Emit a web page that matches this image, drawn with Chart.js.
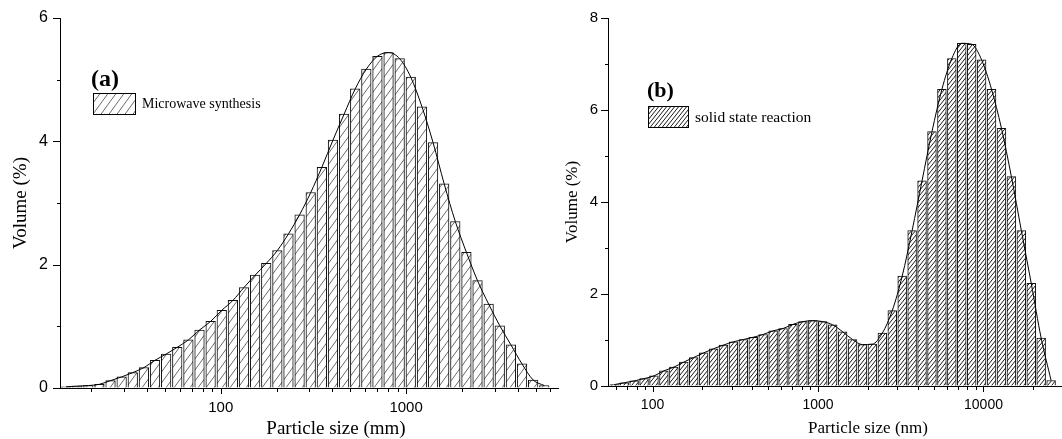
<!DOCTYPE html>
<html>
<head>
<meta charset="utf-8">
<script src="https://cdn.jsdelivr.net/npm/chart.js@4.4.1/dist/chart.umd.min.js"></script>
<style>
    body { margin: 0; background: #fff; }
    #wrap { position: relative; width: 1062px; height: 439px; background: #fff; }
    canvas { position: absolute; top: 0; }
    #chartA { left: 0; }
    #chartB { left: 540px; }
</style>
</head>
<body>
<div id="wrap">
    <canvas id="chartA" width="560" height="439"></canvas>
    <canvas id="chartB" width="522" height="439"></canvas>
</div>
<script>
// (a) microwave synthesis - bin centres (mm) and volume (%)
const sizesA = [14.64, 16.81, 19.30, 22.16, 25.44, 29.21, 33.54, 38.51, 44.21, 50.76, 58.28, 66.92,
    76.83, 88.21, 101.3, 116.3, 133.5, 153.3, 176.0, 202.1, 232.0, 266.4, 305.9, 351.2, 403.2, 462.9,
    531.5, 610.2, 700.6, 804.4, 923.6, 1060, 1218, 1398, 1605, 1843, 2116, 2429, 2789, 3202, 3677,
    4221, 4847, 5565];
const volumeA = [0.02, 0.03, 0.04, 0.06, 0.12, 0.18, 0.25, 0.33, 0.45, 0.55, 0.66, 0.78,
    0.94, 1.08, 1.26, 1.42, 1.63, 1.83, 2.02, 2.23, 2.50, 2.81, 3.17, 3.58, 4.02, 4.44,
    4.85, 5.17, 5.38, 5.44, 5.34, 5.04, 4.56, 3.98, 3.31, 2.70, 2.20, 1.74, 1.36, 1.01, 0.70,
    0.39, 0.13, 0.04];

// (b) solid state reaction - bin centres (nm) and volume (%)
const sizesB = [58.70, 67.40, 77.38, 88.85, 102.0, 117.1, 134.5, 154.4, 177.3, 203.5, 233.7, 268.3,
    308.1, 353.7, 406.1, 466.3, 535.4, 614.7, 705.7, 810.3, 930.3, 1068, 1226, 1408, 1617, 1856,
    2131, 2447, 2810, 3226, 3704, 4252, 4882, 5606, 6436, 7389, 8484, 9741, 11184, 12841, 14743,
    16928, 19435, 22314, 25620];
const volumeB = [0.03, 0.07, 0.11, 0.16, 0.22, 0.33, 0.41, 0.52, 0.62, 0.72, 0.81, 0.89,
    0.96, 1.01, 1.06, 1.12, 1.20, 1.25, 1.34, 1.40, 1.42, 1.40, 1.33, 1.18, 1.01, 0.90,
    0.91, 1.15, 1.64, 2.39, 3.38, 4.46, 5.53, 6.45, 7.12, 7.45, 7.43, 7.09, 6.45, 5.60, 4.55,
    3.38, 2.23, 1.04, 0.12];

// axis ticks
const xTicksA = [20, 30, 40, 50, 60, 70, 80, 90, 100, 200, 300, 400, 500, 600, 700, 800, 900,
    1000, 2000, 3000, 4000, 5000, 6000];
const xLabelsA = [100, 1000];
const xTicksB = [60, 70, 80, 90, 100, 200, 300, 400, 500, 600, 700, 800, 900, 1000, 2000, 3000,
    4000, 5000, 6000, 7000, 8000, 9000, 10000, 20000];
const xLabelsB = [100, 1000, 10000];
const yLabelsA = [0, 2, 4, 6];
const yLabelsB = [0, 2, 4, 6, 8];

function hatch(w, h, color, lw) {
    const c = document.createElement('canvas');
    c.width = w;
    c.height = h;
    const g = c.getContext('2d');
    g.fillStyle = '#fff';
    g.fillRect(0, 0, w, h);
    g.strokeStyle = color;
    g.lineWidth = lw;
    g.beginPath();
    for (let k = -1; k <= 1; k++) {
        g.moveTo(k * w, h);
        g.lineTo(k * w + w, 0);
    }
    g.stroke();
    return g.createPattern(c, 'repeat');
}

// tick marks: long for labelled ticks, short for the rest
const tickMarks = {
    id: 'tickMarks',
    afterDraw(chart) {
        const ctx = chart.ctx;
        const sx = chart.scales.x, sy = chart.scales.y;
        ctx.save();
        ctx.strokeStyle = '#000';
        ctx.lineWidth = 1;
        ctx.beginPath();
        sx.ticks.forEach(t => {
            const px = Math.round(sx.getPixelForValue(t.value)) + 0.5;
            const len = t.label ? 6 : 4;
            ctx.moveTo(px, sx.top);
            ctx.lineTo(px, sx.top + len);
        });
        sy.ticks.forEach(t => {
            const py = Math.round(sy.getPixelForValue(t.value)) + 0.5;
            const len = t.label !== '' ? 7 : 3;
            ctx.moveTo(sy.right, py);
            ctx.lineTo(sy.right - len, py);
        });
        ctx.stroke();
        ctx.restore();
    }
};

function panelDecor(p) {
    return {
        id: 'panelDecor',
        afterDraw(chart) {
            const ctx = chart.ctx;
            ctx.save();
            ctx.fillStyle = '#000';
            ctx.textAlign = 'left';
            ctx.textBaseline = 'alphabetic';
            ctx.font = 'bold ' + p.tagSize + 'px "Liberation Serif"';
            ctx.fillText(p.tag, p.tagX, p.tagY);

            const [bx, by, bw, bh] = p.box;
            ctx.fillStyle = p.pattern;
            ctx.fillRect(bx, by, bw, bh);
            ctx.strokeStyle = '#000';
            ctx.lineWidth = 1;
            ctx.strokeRect(bx + 0.5, by + 0.5, bw, bh);

            ctx.fillStyle = '#000';
            ctx.textBaseline = 'middle';
            ctx.font = p.nameSize + 'px "Liberation Serif"';
            ctx.fillText(p.name, bx + bw + 7, by + bh / 2 + 1);

            ctx.textAlign = 'center';
            ctx.font = p.titleSize + 'px "Liberation Serif"';
            ctx.fillText(p.xTitle, p.titleX, p.titleY);
            ctx.restore();
        }
    };
}

function buildChart(id, p) {
    const points = p.sizes.map((s, i) => ({ x: s, y: p.values[i] }));
    return new Chart(document.getElementById(id), {
        type: 'bar',
        data: {
            datasets: [{
                type: 'line',
                data: points,
                borderColor: '#000',
                borderWidth: 1,
                pointRadius: 0,
                cubicInterpolationMode: 'monotone',
                order: 0
            }, {
                type: 'bar',
                data: points,
                backgroundColor: p.pattern,
                borderColor: '#111',
                borderWidth: 1,
                barThickness: p.barWidth,
                order: 1
            }]
        },
        options: {
            responsive: false,
            animation: false,
            devicePixelRatio: 1,
            layout: { padding: { top: p.top, right: p.right, left: 0, bottom: 0 } },
            plugins: { legend: { display: false }, tooltip: { enabled: false } },
            scales: {
                x: {
                    type: 'logarithmic',
                    min: p.xMin,
                    max: p.xMax,
                    offset: false,
                    afterBuildTicks: s => { s.ticks = p.xTicks.map(v => ({ value: v })); },
                    afterFit: s => { s.height = p.xHeight; },
                    grid: { drawOnChartArea: false, offset: false, tickLength: 6, tickColor: 'rgba(0,0,0,0)' },
                    border: { color: '#000', width: 1 },
                    ticks: {
                        autoSkip: false,
                        maxRotation: 0,
                        padding: p.xPad,
                        color: '#000',
                        font: { family: 'Liberation Sans', size: p.tickSize },
                        callback: v => p.xLabels.includes(v) ? String(v) : ''
                    }
                },
                y: {
                    min: 0,
                    max: p.yMax,
                    afterFit: s => { s.width = p.yWidth; },
                    grid: { drawOnChartArea: false, tickLength: 7, tickColor: 'rgba(0,0,0,0)' },
                    border: { color: '#000', width: 1 },
                    ticks: {
                        stepSize: 1,
                        autoSkip: false,
                        padding: p.yPad,
                        color: '#000',
                        font: { family: 'Liberation Sans', size: p.yTickSize },
                        callback: v => p.yLabels.includes(v) ? String(v) : ''
                    },
                    title: {
                        display: true,
                        text: 'Volume (%)',
                        color: '#000',
                        font: { family: 'Liberation Serif', size: p.titleSize },
                        padding: { top: p.yTitlePad, bottom: 0 }
                    }
                }
            }
        },
        plugins: [tickMarks, panelDecor(p)]
    });
}

const patternA = hatch(8, 11, '#444', 0.8);
const patternB = hatch(4, 5, '#1a1a1a', 1);

buildChart('chartA', {
    sizes: sizesA, values: volumeA, pattern: patternA, barWidth: 9.6,
    xMin: 13.58, xMax: 6600, xTicks: xTicksA, xLabels: xLabelsA,
    yMax: 6, yLabels: yLabelsA,
    top: 18, right: 2, xHeight: 51, yWidth: 60, xPad: 5, yPad: 5,
    tickSize: 15, yTickSize: 16, titleSize: 19, yTitlePad: 10,
    tag: '(a)', tagSize: 24, tagX: 91, tagY: 86,
    box: [93, 93, 42, 21], name: 'Microwave synthesis', nameSize: 14,
    xTitle: 'Particle size (mm)', titleX: 336, titleY: 429
});

buildChart('chartB', {
    sizes: sizesB, values: volumeB, pattern: patternB, barWidth: 8.8,
    xMin: 53.8, xMax: 29400, xTicks: xTicksB, xLabels: xLabelsB,
    yMax: 8, yLabels: yLabelsB,
    top: 18, right: 1, xHeight: 53, yWidth: 68, xPad: 5, yPad: 3,
    tickSize: 14, yTickSize: 15, titleSize: 17, yTitlePad: 22,
    tag: '(b)', tagSize: 22, tagX: 107, tagY: 97,
    box: [108, 106, 40, 21], name: 'solid state reaction', nameSize: 15.5,
    xTitle: 'Particle size (nm)', titleX: 328, titleY: 429
});
</script>
</body>
</html>
